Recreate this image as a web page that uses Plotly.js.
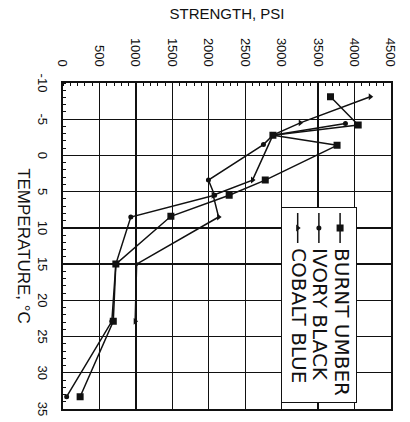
<!DOCTYPE html>
<html>
<head>
<meta charset="utf-8">
<script src="https://cdn.plot.ly/plotly-3.0.1.min.js"></script>
<style>
  html, body { margin: 0; padding: 0; background: #fff; overflow: hidden; }
  #wrap { position: relative; width: 410px; height: 422px; overflow: hidden; }
  #chart { position: absolute; left: 0; top: 0; width: 422px; height: 410px;
           transform-origin: 0 0; transform: translate(410px, 0) rotate(90deg); }
</style>
</head>
<body>
<div id="wrap"><div id="chart"></div></div>
<script>
// Temperature (°C) and strength (psi)
const burntTemp   = [-8.1, -4.2, -2.8, -1.4, 3.4, 5.5, 8.4, 15.0, 22.9, 33.3];
const burntPsi    = [3670, 4050, 2880, 3760, 2775, 2280, 1480, 725, 690, 235];
const ivoryTemp   = [-4.4, -2.8, -1.5, 3.4, 5.5, 8.5, 15.0, 22.9, 33.3];
const ivoryPsi    = [3875, 2880, 2750, 1995, 2080, 930, 725, 670, 50];
const cobaltTemp  = [-8.1, -4.5, -2.8, 3.4, 5.5, 8.5, 15.0, 22.9];
const cobaltPsi   = [4215, 3255, 2880, 2600, 2060, 2135, 1010, 990];
const seriesNames = ["BURNT UMBER", "IVORY BLACK", "COBALT BLUE"];
const tempTicks   = [-10, -5, 0, 5, 10, 15, 20, 25, 30, 35];
const psiTicks    = [0, 500, 1000, 1500, 2000, 2500, 3000, 3500, 4000, 4500];

const big = s => '<span style="font-size:20px">' + s + '</span>';
const lineStyle = {color: "#111", width: 1.5};
const traces = [
  {x: burntTemp, y: burntPsi, name: big(seriesNames[0]), mode: "lines+markers",
   line: lineStyle, marker: {symbol: "square", size: 7, color: "#111"}},
  {x: ivoryTemp, y: ivoryPsi, name: big(seriesNames[1]), mode: "lines+markers",
   line: lineStyle, marker: {symbol: "circle", size: 5, color: "#111"}},
  {x: cobaltTemp, y: cobaltPsi, name: big(seriesNames[2]), mode: "lines+markers",
   line: lineStyle, marker: {symbol: "triangle-up", size: 6, color: "#111"}}
];

const tickFont = {family: "Liberation Sans Narrow, Liberation Sans, Arial, sans-serif", size: 13, color: "#111"};
const layout = {
  width: 422, height: 410,
  margin: {l: 83, r: 13, t: 19, b: 63},
  paper_bgcolor: "#fff", plot_bgcolor: "#fff",
  font: {family: "Liberation Sans, Arial, sans-serif", color: "#111"},
  showlegend: true,
  legend: {x: 0.38, y: 0.896, xanchor: "left", yanchor: "top",
           bgcolor: "#fff", bordercolor: "#111", borderwidth: 1.2,
           font: {family: "DejaVu Sans, sans-serif", size: 14, color: "#111"},
           tracegroupgap: 0, itemwidth: 30},
  xaxis: {
    range: [-10, 35], tickvals: tempTicks, ticktext: tempTicks.map(String),
    showgrid: true, gridcolor: "#111", gridwidth: 1.3,
    showline: true, linecolor: "#111", linewidth: 1.6, mirror: true,
    zeroline: false, ticks: "", tickfont: tickFont, ticklabelstandoff: 8,
    minor: {dtick: 1, ticks: "inside", ticklen: 3, tickcolor: "#111", showgrid: false},
    title: {text: "TEMPERATURE, °C", font: {size: 17, color: "#111"}, standoff: 6}
  },
  yaxis: {
    range: [0, 4500], tickvals: psiTicks, ticktext: psiTicks.map(String),
    showgrid: true, gridcolor: "#111", gridwidth: 1.3,
    showline: true, linecolor: "#111", linewidth: 1.6, mirror: true,
    zeroline: false, ticks: "", tickfont: tickFont, ticklabelstandoff: 12,
    minor: {dtick: 100, ticks: "inside", ticklen: 3, tickcolor: "#111", showgrid: false},
    title: {text: "STRENGTH, PSI", font: {size: 15, color: "#111"}, standoff: 14}
  }
};
Plotly.newPlot("chart", traces, layout, {displayModeBar: false, staticPlot: true});
</script>
</body>
</html>
